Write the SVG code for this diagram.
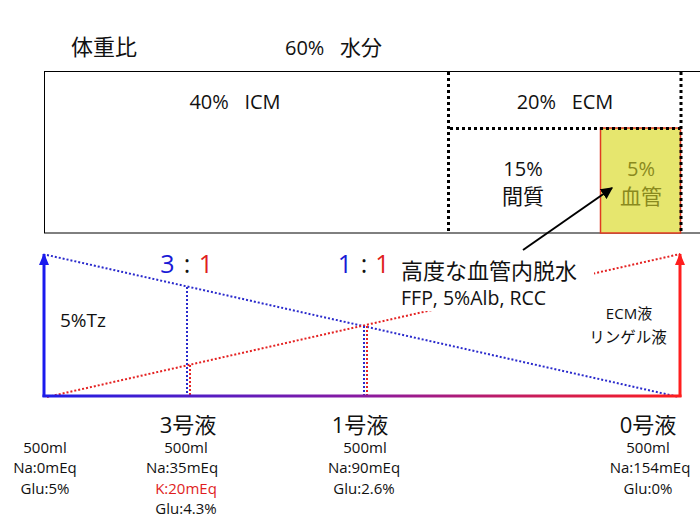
<svg xmlns="http://www.w3.org/2000/svg" width="700" height="525" viewBox="0 0 700 525">
<defs>
<linearGradient id="axisGrad" x1="44" y1="0" x2="681" y2="0" gradientUnits="userSpaceOnUse">
<stop offset="0" stop-color="#1e1ee6"/>
<stop offset="0.5" stop-color="#8a1aa0"/>
<stop offset="1" stop-color="#ff1e1e"/>
</linearGradient>
<marker id="headBlue" viewBox="0 0 12 10" refX="11" refY="5" markerWidth="12" markerHeight="10" markerUnits="userSpaceOnUse" orient="auto">
<path d="M0,0 L12,5 L0,10 Z" fill="#1a1aee"/>
</marker>
<marker id="headRed" viewBox="0 0 12 10" refX="11" refY="5" markerWidth="12" markerHeight="10" markerUnits="userSpaceOnUse" orient="auto">
<path d="M0,0 L12,5 L0,10 Z" fill="#ff1e1e"/>
</marker>
<marker id="headBlack" viewBox="0 0 10 10" refX="9" refY="5" markerWidth="12" markerHeight="12" markerUnits="userSpaceOnUse" orient="auto">
<path d="M0,0 L10,5 L0,10 Z" fill="#000"/>
</marker>
</defs>
<style>
text { font-family: "Open Sans", "Noto Sans CJK JP", sans-serif; fill: #111; white-space: pre; }
.c { text-anchor: middle; }
.jp { font-family: "Noto Sans CJK JP", sans-serif; }
.sm { font-size: 15px; }
.blk { fill: none; stroke: #000; stroke-width: 3; stroke-dasharray: 3 3; }
.bd { fill: none; stroke: #2a2acc; stroke-width: 2; stroke-dasharray: 2 2; }
.rd { fill: none; stroke: #e42222; stroke-width: 2; stroke-dasharray: 2 2; }
.blue { fill: #1a1ad6; }
.red { fill: #e01e1e; }
</style>
<rect width="700" height="525" fill="#fff"/>

<g id="header">
<text x="71" y="55" font-size="22" class="jp">体重比</text>
<text x="285" y="55" font-size="20">60%   <tspan class="jp" font-size="21">水分</tspan></text>
</g>

<g id="body">
<rect x="44.5" y="71.5" width="680" height="161.5" fill="#fff" stroke="#000" stroke-width="1"/>
<text x="235" y="109" font-size="20" class="c">40%   ICM</text>
</g>

<g id="ecm">
<text x="565" y="109" font-size="20" class="c">20%   ECM</text>
</g>

<g id="interstitial">
<text x="523" y="176" font-size="20" class="c">15%</text>
<text x="523" y="204" font-size="21" class="c jp">間質</text>
</g>

<g id="vascular">
<rect x="600.5" y="128" width="80" height="105" fill="#e6e66e" stroke="#e03a22" stroke-width="1.5"/>
<text x="641" y="176" font-size="20" class="c" style="fill:#8a8a1e">5%</text>
<text x="641" y="204" font-size="21" class="c jp" style="fill:#8a8a1e">血管</text>
</g>

<g id="compartment-lines">
<line x1="448.5" y1="72" x2="448.5" y2="233" class="blk"/>
<line x1="450" y1="128.5" x2="680" y2="128.5" class="blk"/>
<line x1="681" y1="72" x2="681" y2="233" class="blk"/>
</g>

<g id="connectors">
<line x1="44" y1="397" x2="44" y2="254" stroke="#1a1aee" stroke-width="3" marker-end="url(#headBlue)"/>
<line x1="680" y1="397" x2="680" y2="254" stroke="#ff1e1e" stroke-width="3" marker-end="url(#headRed)"/>
<line x1="47" y1="255" x2="679" y2="397" class="bd"/>
<line x1="47" y1="397" x2="680" y2="254" class="rd"/>
<line x1="187" y1="287" x2="187" y2="396" class="bd"/>
<line x1="190" y1="365" x2="190" y2="396" class="rd"/>
<line x1="364" y1="326" x2="364" y2="396" class="bd"/>
<line x1="367" y1="326" x2="367" y2="396" class="rd"/>
<rect x="42.5" y="394.5" width="639" height="3" fill="url(#axisGrad)"/>
<line x1="523" y1="250" x2="612" y2="188" stroke="#000" stroke-width="2" marker-end="url(#headBlack)"/>
</g>

<g id="ratio-3-1">
<text x="167.5" y="273" font-size="25" class="c blue">3</text>
<text x="187" y="273" font-size="25" class="c">:</text>
<text x="206" y="273" font-size="25" class="c red">1</text>
</g>

<g id="ratio-1-1">
<text x="345" y="273" font-size="25" class="c blue">1</text>
<text x="364" y="273" font-size="25" class="c">:</text>
<text x="382.5" y="273" font-size="25" class="c red">1</text>
</g>

<g id="severe-dehydration">
<rect x="398" y="256" width="196" height="55" fill="#fff"/>
<text x="401" y="279" font-size="22" class="jp">高度な血管内脱水</text>
<text x="401" y="305" font-size="19.5">FFP, 5%Alb, RCC</text>
</g>

<g id="tz-label">
<text x="60" y="327" font-size="19">5%Tz</text>
</g>

<g id="ecm-fluid">
<text x="629" y="319" font-size="15" class="c">ECM<tspan class="jp">液</tspan></text>
<text x="628" y="343" font-size="15.5" class="c jp">リンゲル液</text>
</g>

<g id="col-tz">
<text x="45" y="453" class="c sm">500ml</text>
<text x="45" y="473" class="c sm">Na:0mEq</text>
<text x="45" y="494" class="c sm">Glu:5%</text>
</g>

<g id="col-3">
<text x="188" y="433" font-size="22" class="c">3<tspan class="jp">号液</tspan></text>
<text x="186" y="453" class="c sm">500ml</text>
<text x="182" y="473" class="c sm">Na:35mEq</text>
<text x="186" y="494" class="c sm" style="fill:#e01e1e">K:20mEq</text>
<text x="186" y="514" class="c sm">Glu:4.3%</text>
</g>

<g id="col-1">
<text x="360" y="433" font-size="22" class="c">1<tspan class="jp">号液</tspan></text>
<text x="365" y="453" class="c sm">500ml</text>
<text x="364" y="473" class="c sm">Na:90mEq</text>
<text x="364" y="494" class="c sm">Glu:2.6%</text>
</g>

<g id="col-0">
<text x="648" y="433" font-size="22" class="c">0<tspan class="jp">号液</tspan></text>
<text x="648" y="453" class="c sm">500ml</text>
<text x="650" y="473" class="c sm">Na:154mEq</text>
<text x="648" y="494" class="c sm">Glu:0%</text>
</g>
</svg>
